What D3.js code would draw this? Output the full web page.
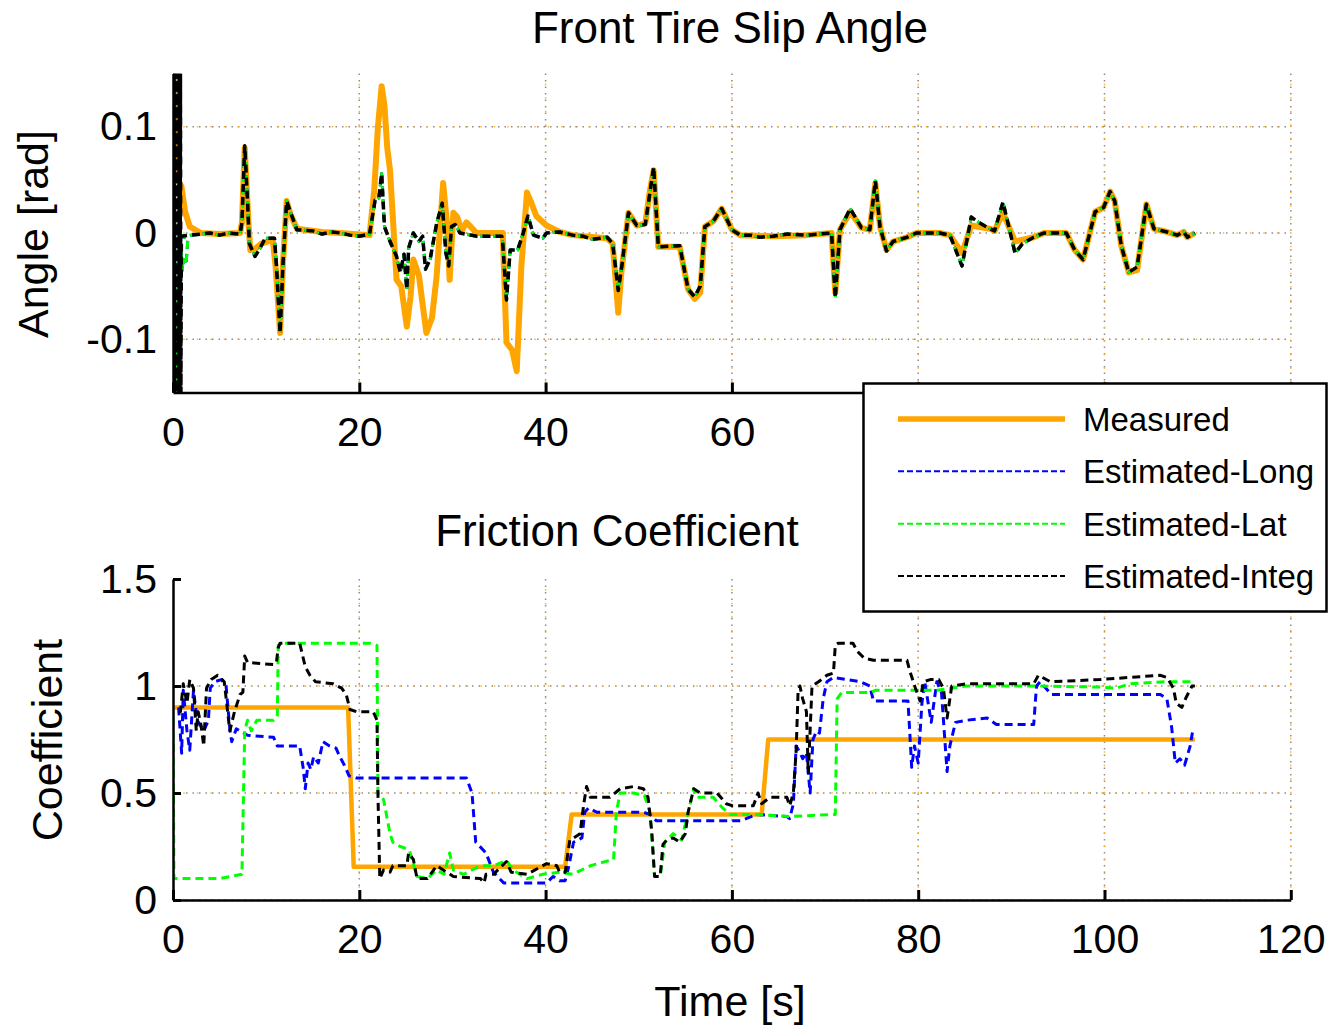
<!DOCTYPE html>
<html>
<head>
<meta charset="utf-8">
<script src="https://cdn.jsdelivr.net/npm/d3@7"></script>
<style>
  body { margin: 0; background: #fff; }
  svg { display: block; font-family: "Liberation Sans", Arial, sans-serif; }
</style>
</head>
<body>
<svg id="chart" width="1329" height="1026"></svg>
<script>

var seriesNames = ["Measured", "Estimated-Long", "Estimated-Lat", "Estimated-Integ"]
var seriesColors = ["#ffa500", "#0000ff", "#00ff00", "#000000"]

var timeTicks = [0, 20, 40, 60, 80, 100, 120]
var angleTicks = [-0.1, 0, 0.1]
var angleTickLabels = ["-0.1", "0", "0.1"]
var frictionTicks = [0, 0.5, 1, 1.5]
var frictionTickLabels = ["0", "0.5", "1", "1.5"]

// [time s, angle rad]
var angleMeasured = [[0,0.15],[0.2,0.07],[0.5,0.05],[0.9,0.044],[1.3,0.02],[1.8,0.006],[3,0],[5,-0.001],[7.2,0],[7.4,0.01],[7.7,0.08],[8.1,0.01],[8.3,-0.016],[8.8,-0.015],[9.5,-0.01],[10.7,-0.006],[11.0,-0.03],[11.5,-0.094],[11.8,-0.03],[12.2,0.03],[12.6,0.018],[13.3,0.004],[16,0.001],[18,0],[21.1,-0.002],[21.6,0.04],[22.0,0.1],[22.4,0.138],[22.7,0.12],[23.0,0.08],[23.3,0.059],[24.0,-0.044],[24.5,-0.05],[25.1,-0.088],[25.5,-0.06],[25.8,-0.025],[26.4,-0.04],[27.2,-0.094],[27.8,-0.08],[28.3,-0.041],[29.0,0.047],[29.4,0.01],[29.7,-0.044],[30.1,0.019],[30.5,0.015],[31.0,0.002],[31.5,0.01],[32.6,0],[35.4,0],[35.8,-0.103],[36.4,-0.11],[36.9,-0.13],[37.4,-0.031],[38.0,0.038],[38.4,0.03],[39.0,0.016],[40.1,0.007],[41.5,0.001],[42.9,-0.002],[46.6,-0.005],[47.2,-0.01],[47.8,-0.075],[48.1,-0.04],[48.9,0.019],[49.8,0.007],[50.7,0.009],[51.2,0.04],[51.6,0.059],[52.1,-0.013],[54.4,-0.013],[55.3,-0.053],[56.0,-0.062],[56.6,-0.056],[57.1,0.006],[58.0,0.011],[58.9,0.023],[60.0,0.003],[60.9,-0.002],[64.4,-0.003],[68.0,-0.002],[70.7,0],[71.1,-0.056],[71.6,0.003],[72.7,0.02],[73.9,0.005],[74.8,0.003],[75.4,0.047],[75.9,0.006],[76.6,-0.016],[77.3,-0.008],[78.8,-0.004],[79.8,0],[82.3,0],[83.4,-0.002],[84.7,-0.019],[85.7,0.007],[87.7,0.004],[88.2,0.002],[89.1,0.019],[90.4,-0.008],[92.4,-0.004],[93.5,0],[95.9,0],[96.8,-0.016],[97.7,-0.025],[99.0,0.02],[99.9,0.024],[100.6,0.039],[101.1,0.03],[101.8,-0.012],[102.6,-0.037],[103.5,-0.035],[104.5,0.027],[105.3,0.004],[106.7,0.001],[107.8,-0.002],[108.5,0.001],[108.9,-0.004],[109.7,0]]

var angleIntegStart = [[0,0.15],[0.05,-0.15],[0.1,0.15],[0.15,-0.15],[0.2,0.15],[0.25,-0.15],[0.3,0.15],[0.35,-0.15],[0.4,0.15],[0.45,-0.15],[0.5,0.15],[0.55,-0.15],[0.6,0.15],[0.65,-0.15],[0.7,0.15],[0.75,-0.15],[0.8,0.15],[0.85,-0.15]]
var angleLatStart = [[0,0.15],[0.4,-0.15],[0.8,-0.01],[1.0,-0.035],[1.2,-0.025],[1.4,-0.03],[1.6,-0.005]]

var angleEstimated = [[0.9,-0.003],[2,-0.002],[4,0],[5,-0.002],[6,0],[7.2,-0.001],[7.4,0.01],[7.7,0.082],[8.0,0.03],[8.2,-0.01],[8.8,-0.022],[9.3,-0.015],[9.9,-0.005],[10.9,-0.005],[11.1,-0.03],[11.5,-0.094],[11.8,-0.03],[12.2,0.03],[12.6,0.02],[13.3,0.003],[15,0.002],[16,-0.001],[17,0.001],[18,0],[19,-0.002],[20,-0.003],[21.1,-0.001],[21.7,0.031],[22.1,0.033],[22.4,0.056],[22.7,0.006],[23.3,-0.008],[24.0,-0.022],[24.4,-0.037],[24.8,-0.02],[25.1,-0.053],[25.3,-0.014],[25.8,0],[26.4,-0.008],[26.8,-0.003],[27.1,-0.034],[27.6,-0.025],[28.3,0.009],[28.9,0.028],[29.3,-0.019],[29.6,-0.031],[29.9,0.006],[30.3,0.008],[30.8,0],[32.6,-0.003],[35.3,-0.003],[35.4,-0.01],[35.8,-0.063],[36.2,-0.016],[37.0,-0.016],[37.6,0],[38.1,0.016],[38.7,-0.002],[39.7,-0.005],[40.1,0],[41.5,0.001],[42.9,-0.002],[44,-0.003],[45,-0.006],[46.6,-0.004],[47.2,-0.01],[47.8,-0.054],[48.2,-0.03],[48.9,0.019],[49.8,0.007],[50.7,0.008],[51.6,0.062],[52.1,-0.013],[54.4,-0.012],[55.3,-0.053],[56.0,-0.06],[56.6,-0.05],[57.1,0.006],[58.0,0.011],[58.9,0.023],[60.0,0.003],[60.9,-0.002],[62,-0.002],[63,-0.004],[64.4,-0.003],[66,-0.001],[68.0,-0.002],[70.7,0],[71.1,-0.061],[71.6,0.003],[72.7,0.023],[73.9,0.005],[74.8,0.003],[75.4,0.049],[75.9,0.006],[76.6,-0.017],[77.3,-0.008],[78.8,-0.004],[79.8,0],[82.3,0],[83.4,-0.002],[84.7,-0.031],[85.7,0.015],[86.5,0.01],[87.7,0.004],[88.2,0.002],[89.1,0.029],[90.4,-0.019],[91.2,-0.01],[92.4,-0.004],[93.5,0],[95.9,0],[96.8,-0.016],[97.7,-0.025],[99.0,0.02],[99.9,0.024],[100.6,0.039],[101.1,0.03],[101.8,-0.012],[102.6,-0.037],[103.5,-0.032],[104.5,0.027],[105.3,0.004],[106.7,0.001],[107.8,-0.002],[108.5,0.001],[108.9,-0.004],[109.7,0]]

// [time s, friction coefficient]
var frictionMeasured = [[0,0.9],[18.8,0.9],[19.4,0.155],[42.1,0.155],[42.8,0.4],[63.2,0.4],[63.9,0.75],[109.7,0.75]]

var frictionLong = [[0.6,0.9],[0.93,0.686],[1.1,0.98],[1.5,0.79],[1.8,0.7],[2.2,0.98],[2.6,0.84],[3.3,0.79],[3.8,0.84],[4.0,0.99],[4.5,1.02],[5.2,1.03],[5.7,1.0],[6.1,0.8],[6.3,0.74],[6.8,0.8],[8.0,0.77],[10.8,0.76],[11.2,0.72],[13.6,0.72],[14.0,0.61],[14.2,0.52],[14.5,0.64],[14.8,0.61],[15.1,0.67],[15.6,0.64],[16.1,0.74],[16.8,0.72],[17.5,0.71],[17.9,0.67],[18.4,0.63],[18.9,0.58],[19.7,0.57],[31.5,0.57],[32.1,0.5],[32.5,0.27],[33.6,0.22],[34.4,0.13],[35.5,0.08],[40.1,0.08],[40.8,0.11],[41.5,0.09],[42.1,0.09],[42.5,0.16],[43.0,0.27],[43.9,0.29],[44.2,0.41],[44.6,0.43],[45.5,0.41],[50.5,0.41],[51.2,0.4],[51.9,0.37],[60.9,0.37],[62.7,0.4],[65.9,0.39],[66.2,0.38],[66.6,0.45],[66.9,0.72],[67.3,0.69],[67.6,0.66],[68.0,0.69],[68.4,0.5],[68.7,0.75],[69.1,0.79],[69.4,0.78],[69.8,0.94],[70.2,1.02],[70.9,1.04],[72.3,1.03],[73.8,1.02],[74.8,1.0],[75.2,0.93],[78.9,0.93],[79.1,0.78],[79.3,0.62],[79.6,0.72],[80.0,0.64],[80.4,0.92],[80.7,1.02],[81.4,0.83],[82.0,1.02],[82.5,0.97],[83.1,0.6],[83.4,0.72],[84.0,0.83],[85.2,0.84],[87.4,0.85],[88.4,0.82],[92.4,0.82],[92.7,1.0],[93.1,1.02],[94.3,0.96],[106.0,0.96],[106.7,0.94],[107.2,0.81],[107.6,0.64],[108.1,0.66],[108.6,0.63],[109.2,0.72],[109.5,0.8]]

var frictionLat = [[0,0.85],[0.1,0.1],[5.0,0.1],[7.4,0.12],[7.7,0.79],[8.0,0.84],[8.4,0.79],[9.0,0.84],[10.8,0.84],[11.2,0.86],[11.3,1.19],[11.7,1.2],[21.1,1.2],[21.9,1.19],[22.0,0.5],[22.6,0.47],[23.3,0.31],[23.6,0.27],[24.4,0.25],[25.1,0.24],[25.4,0.23],[26.2,0.11],[27.3,0.1],[28.3,0.14],[29.1,0.12],[29.7,0.22],[30.1,0.14],[31.2,0.12],[33.0,0.16],[34.4,0.16],[35.8,0.185],[36.5,0.14],[38.0,0.1],[39.7,0.12],[41.5,0.13],[42.9,0.12],[44.8,0.16],[47.3,0.19],[47.6,0.41],[48.0,0.5],[49.4,0.5],[50.6,0.49],[51.2,0.41],[51.7,0.11],[52.3,0.11],[52.8,0.27],[53.7,0.31],[54.6,0.28],[55.3,0.41],[55.9,0.52],[56.2,0.48],[58.0,0.48],[59.0,0.43],[59.8,0.4],[62.7,0.4],[66.2,0.39],[71.1,0.4],[71.3,0.94],[71.8,0.97],[75.0,0.97],[75.4,0.98],[82,0.98],[85.2,1.0],[92.4,1.0],[99.5,0.995],[101.3,0.99],[102.7,1.01],[106.7,1.02],[109.5,1.02]]

var frictionInteg = [[0.6,0.88],[0.8,0.88],[1.1,1.01],[1.5,0.92],[1.8,1.03],[2.2,0.99],[2.5,0.79],[2.7,0.88],[3.0,0.82],[3.3,0.72],[3.6,0.99],[4.1,1.03],[4.8,1.05],[5.5,1.02],[6.1,0.79],[6.6,0.88],[7.2,0.96],[7.5,0.97],[7.7,1.14],[8.0,1.11],[10.8,1.1],[11.1,1.11],[11.3,1.18],[11.5,1.2],[13.6,1.2],[14.2,1.09],[14.7,1.05],[15.3,1.02],[17.2,1.01],[18.1,0.99],[18.6,0.96],[19.0,0.89],[19.7,0.88],[21.5,0.88],[21.9,0.84],[22.0,0.5],[22.2,0.1],[22.6,0.14],[23.3,0.13],[23.6,0.16],[25.1,0.16],[25.3,0.22],[25.8,0.19],[26.2,0.1],[27.3,0.1],[28.3,0.16],[30.1,0.11],[33.0,0.1],[33.4,0.08],[33.6,0.12],[34.4,0.12],[35.8,0.18],[36.3,0.13],[38.0,0.12],[40.1,0.17],[41.2,0.16],[41.5,0.13],[42.1,0.13],[42.6,0.28],[43.0,0.29],[43.7,0.31],[44.1,0.45],[44.4,0.53],[44.8,0.48],[46.9,0.48],[48.0,0.52],[49.4,0.53],[50.5,0.52],[51.0,0.48],[51.4,0.32],[51.7,0.11],[52.3,0.11],[52.6,0.26],[53.0,0.28],[53.7,0.29],[54.4,0.27],[55.0,0.31],[55.3,0.41],[55.9,0.52],[56.6,0.5],[58.4,0.5],[59.4,0.45],[60.1,0.44],[62.3,0.44],[62.8,0.5],[63.2,0.45],[64.1,0.48],[65.9,0.48],[66.2,0.44],[66.6,0.5],[66.9,0.7],[67.1,0.97],[67.3,1.0],[67.6,0.94],[68.0,0.88],[68.2,0.59],[68.6,1.0],[69.3,1.02],[70.2,1.05],[70.9,1.06],[71.1,1.19],[71.4,1.2],[73.0,1.2],[73.5,1.16],[74.2,1.13],[75.2,1.12],[78.8,1.12],[79.1,1.07],[79.7,0.99],[80.2,0.93],[80.55,1.02],[81.3,1.03],[82.2,1.03],[82.7,0.99],[83.1,0.85],[83.6,1.0],[85.2,1.01],[92.4,1.01],[92.9,1.05],[94.2,1.02],[99.5,1.03],[102.7,1.04],[105.95,1.05],[106.7,1.04],[107.4,0.99],[107.7,0.92],[108.3,0.9],[108.8,0.95],[109.4,1.0],[109.7,1.0]]

var svg = d3.select("#chart")

var left = 173
var right = 1290.8

var legendBox = { x: 863.5, y: 383.5, width: 463, height: 228 }

var x = d3.scaleLinear().domain([0, 120]).range([left, right])

var panels = [
  {
    id: "angle",
    title: "Front Tire Slip Angle",
    titleX: 730,
    titleY: 43,
    ylabel: "Angle [rad]",
    ylabelX: 48,
    ylabelY: 234,
    y: d3.scaleLinear().domain([-0.15, 0.15]).range([392.5, 73.5]),
    ticks: angleTicks,
    tickLabels: angleTickLabels,
    series: [
      angleMeasured,
      angleLatStart.concat(angleEstimated),
      angleLatStart.concat(angleEstimated),
      angleIntegStart.concat(angleEstimated)
    ],
    widths: [6, 3, 3, 3.5],
    offsets: [0, 6, 6, 0],
    underLegend: true
  },
  {
    id: "friction",
    title: "Friction Coefficient",
    titleX: 617,
    titleY: 546,
    ylabel: "Coefficient",
    ylabelX: 62,
    ylabelY: 740,
    y: d3.scaleLinear().domain([0, 1.5]).range([900, 579]),
    ticks: frictionTicks,
    tickLabels: frictionTickLabels,
    series: [frictionMeasured, frictionLong, frictionLat, frictionInteg],
    widths: [4.5, 3, 3, 3],
    offsets: [0, 0, 0, 0],
    underLegend: false
  }
]

panels.forEach(function (p) {

  var y = p.y
  var top = y.range()[1]
  var bottom = y.range()[0]

  svg.append("clipPath").attr("id", "clip-" + p.id)
    .append("rect")
    .attr("x", left)
    .attr("y", top)
    .attr("width", right - left)
    .attr("height", bottom - top)

  var grid = svg.append("g").attr("class", "grid")

  var gridStyles = [
    { color: "#8c8c8c", dash: "1.5,5", offset: 0 },
    { color: "#ffb428", dash: "1.5,12", offset: 3.2 }
  ]

  gridStyles.forEach(function (g) {

    grid.selectAll(null)
      .data(timeTicks.slice(1))
      .enter()
      .append("line")
      .attr("x1", (d) => x(d))
      .attr("x2", (d) => x(d))
      .attr("y1", top)
      .attr("y2", bottom)
      .attr("stroke", g.color)
      .attr("stroke-width", 1.5)
      .attr("stroke-dasharray", g.dash)
      .attr("stroke-dashoffset", g.offset)

    grid.selectAll(null)
      .data(p.ticks.filter((d) => y(d) > top + 1))
      .enter()
      .append("line")
      .attr("x1", left)
      .attr("x2", right)
      .attr("y1", (d) => y(d))
      .attr("y2", (d) => y(d))
      .attr("stroke", g.color)
      .attr("stroke-width", 1.5)
      .attr("stroke-dasharray", g.dash)
      .attr("stroke-dashoffset", g.offset)

  })

  var line = d3.line()
    .x((d) => x(d[0]))
    .y((d) => y(d[1]))

  var lines = svg.append("g").attr("clip-path", "url(#clip-" + p.id + ")")

  p.series.forEach(function (s, i) {
    lines.append("path")
      .datum(s)
      .attr("d", line)
      .attr("fill", "none")
      .attr("stroke", seriesColors[i])
      .attr("stroke-width", p.widths[i])
      .attr("stroke-linejoin", "round")
      .attr("stroke-dasharray", i === 0 ? null : "8,5")
      .attr("stroke-dashoffset", p.offsets[i])
  })

  // labels that sit under the legend are not shown
  var xAxis = d3.axisBottom(x).tickValues(timeTicks).tickSizeInner(-10).tickSizeOuter(0).tickPadding(24)
    .tickFormat((d) => (p.underLegend && x(d) + 30 > legendBox.x) ? "" : d)

  var yAxis = d3.axisLeft(y).tickValues(p.ticks).tickSizeInner(-8).tickSizeOuter(0).tickPadding(16)
    .tickFormat((d, i) => p.tickLabels[i])

  var gx = svg.append("g").attr("transform", "translate(0," + bottom + ")").call(xAxis)

  var gy = svg.append("g").attr("transform", "translate(" + left + ",0)").call(yAxis)

  ;[gx, gy].forEach(function (g) {
    g.select(".domain").attr("stroke", "#000").attr("stroke-width", 2.5)
    g.selectAll(".tick line").attr("stroke", "#000").attr("stroke-width", 3)
    g.selectAll(".tick text").attr("fill", "#000").style("font-size", "41px").style("font-family", "Liberation Sans, Arial, sans-serif")
  })

  svg.append("text")
    .attr("x", p.titleX)
    .attr("y", p.titleY)
    .attr("text-anchor", "middle")
    .style("font-size", "44px")
    .text(p.title)

  svg.append("text")
    .attr("transform", "translate(" + p.ylabelX + "," + p.ylabelY + ") rotate(-90)")
    .attr("text-anchor", "middle")
    .style("font-size", "43px")
    .text(p.ylabel)

})

svg.append("text")
  .attr("x", 730)
  .attr("y", 1016)
  .attr("text-anchor", "middle")
  .style("font-size", "43px")
  .text("Time [s]")

var legend = svg.append("g").attr("class", "legend")

legend.append("rect")
  .attr("x", legendBox.x)
  .attr("y", legendBox.y)
  .attr("width", legendBox.width)
  .attr("height", legendBox.height)
  .attr("fill", "#fff")
  .attr("stroke", "#000")
  .attr("stroke-width", 2.5)

var legendY = d3.scalePoint().domain(seriesNames).range([419, 576])

seriesNames.forEach(function (name, i) {

  legend.append("line")
    .attr("x1", 898)
    .attr("x2", 1065)
    .attr("y1", legendY(name))
    .attr("y2", legendY(name))
    .attr("stroke", seriesColors[i])
    .attr("stroke-width", i === 0 ? 5.5 : 2)
    .attr("stroke-dasharray", i === 0 ? null : "6,3")

  legend.append("text")
    .attr("x", 1083)
    .attr("y", legendY(name) + 12)
    .style("font-size", "33px")
    .text(name)

})

</script>
</body>
</html>
